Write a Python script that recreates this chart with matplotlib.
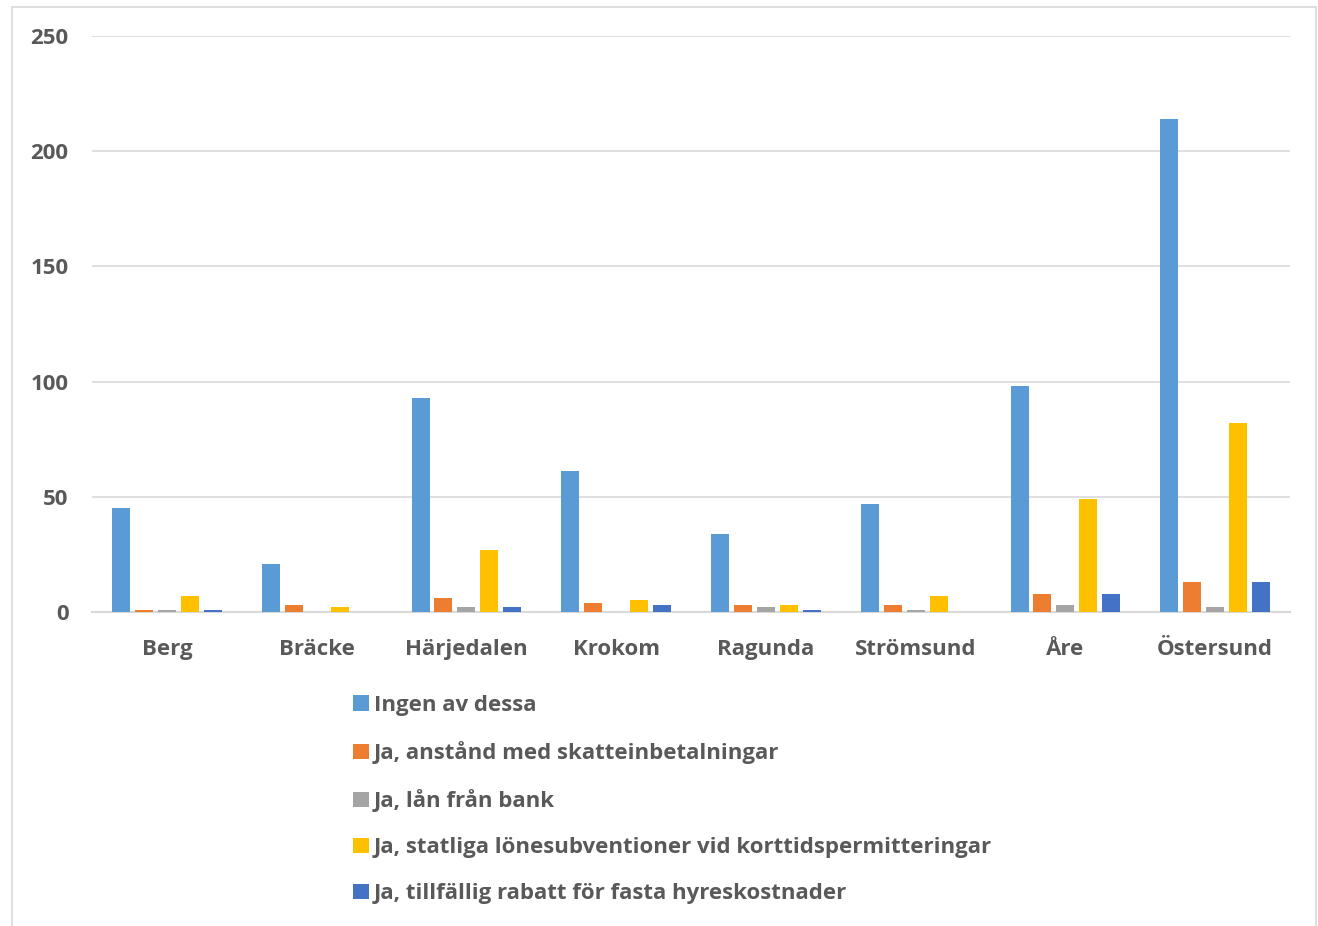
import matplotlib.pyplot as plt
import numpy as np
from matplotlib.patches import Rectangle

kommuner = ['Berg', 'Bräcke', 'Härjedalen', 'Krokom', 'Ragunda', 'Strömsund', 'Åre', 'Östersund']
serier = [
    'Ingen av dessa',
    'Ja, anstånd med skatteinbetalningar',
    'Ja, lån från bank',
    'Ja, statliga lönesubventioner vid korttidspermitteringar',
    'Ja, tillfällig rabatt för fasta hyreskostnader',
]
ingen = [45, 21, 93, 61, 34, 47, 98, 214]
anstand = [1, 3, 6, 4, 3, 3, 8, 13]
lan_bank = [1, 0, 2, 0, 2, 1, 3, 2]
lonesubv = [7, 2, 27, 5, 3, 7, 49, 82]
hyresrabatt = [1, 0, 2, 3, 1, 0, 8, 13]
varden = [ingen, anstand, lan_bank, lonesubv, hyresrabatt]
farger = ['#5b9bd5', '#ed7d31', '#a5a5a5', '#ffc000', '#4472c4']

plt.rcParams['font.family'] = ['Open Sans', 'DejaVu Sans']
textfarg = '#595959'

fig = plt.figure(figsize=(13.18, 9.26), dpi=100)
fig.patches.append(Rectangle((12/1318, -0.01), (1316-12)/1318, 1.01 - 7/926,
                             transform=fig.transFigure, fill=False,
                             edgecolor='#d9d9d9', linewidth=1.2))

ax = fig.add_axes([92/1318, 1 - 612/926, (1290-92)/1318, (612-36)/926])

x = np.arange(len(kommuner))
steg = 0.153
bredd = 0.12
for i, (namn, v) in enumerate(zip(serier, varden)):
    ax.bar(x + (i - 2) * steg, v, width=bredd, color=farger[i], label=namn, zorder=3)

ax.set_xlim(-0.5, len(kommuner) - 0.5)
ax.set_ylim(0, 250)
ax.set_yticks(range(0, 251, 50))
ax.set_xticks(x)
ax.set_xticklabels(kommuner)
ax.grid(axis='y', color='#d9d9d9', linewidth=1.2, zorder=0)
for s in ['top', 'right', 'left']:
    ax.spines[s].set_visible(False)
ax.spines['bottom'].set_color('#d9d9d9')
ax.spines['bottom'].set_linewidth(1.5)
ax.tick_params(axis='both', length=0, labelsize=16, labelcolor=textfarg)
ax.tick_params(axis='y', pad=17)
ax.tick_params(axis='x', pad=19.5)
for t in ax.get_xticklabels() + ax.get_yticklabels():
    t.set_fontweight('bold')

fig.legend(loc='upper left', bbox_to_anchor=(353/1318, 1 - 695/926), frameon=False,
           ncol=1, handlelength=0.7, handleheight=0.7, borderaxespad=0,
           handletextpad=0.25, labelspacing=1.13, borderpad=0,
           labelcolor=textfarg, prop={'weight': 'bold', 'size': 16})

fig.savefig('out.png', dpi=100)
